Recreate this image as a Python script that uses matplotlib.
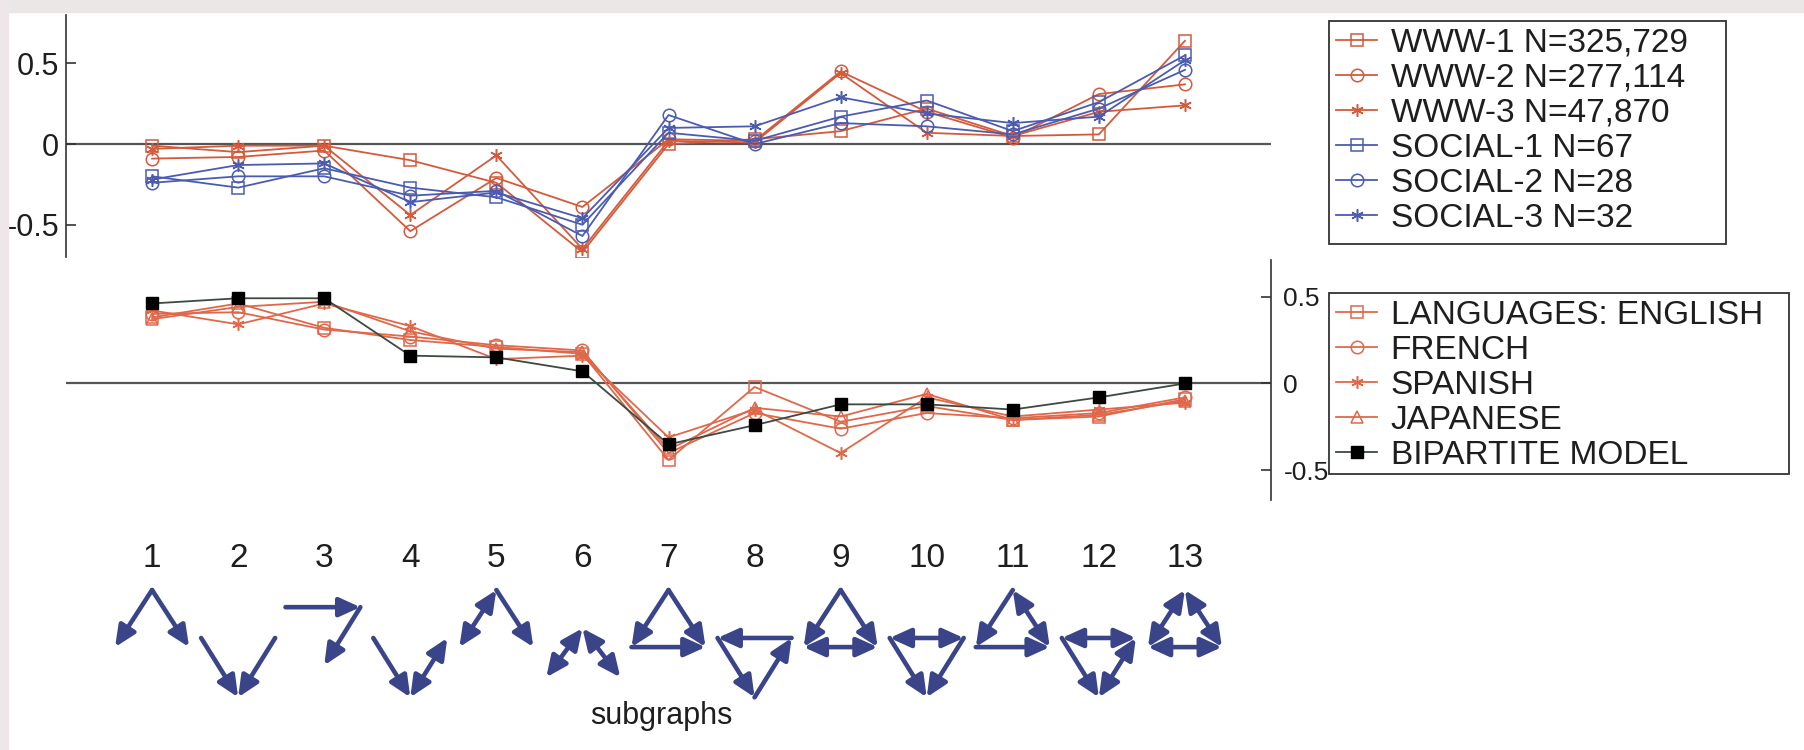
import matplotlib
matplotlib.use('Agg')
import matplotlib.pyplot as plt
from matplotlib.patches import Rectangle, ArrowStyle

plt.rcParams['font.family'] = ['Liberation Sans', 'DejaVu Sans']
plt.rcParams['axes.unicode_minus'] = False

# ========== data ==========
subgraph_ids = list(range(1, 14))

www1 = [-0.01, -0.05, -0.01, -0.10, -0.24, -0.67, 0.00, 0.03, 0.08, 0.22, 0.05, 0.06, 0.64]
www2 = [-0.09, -0.08, -0.04, -0.54, -0.21, -0.39, 0.03, 0.02, 0.45, 0.20, 0.04, 0.31, 0.37]
www3 = [-0.03, -0.01, -0.01, -0.44, -0.07, -0.65, 0.02, 0.01, 0.44, 0.07, 0.05, 0.20, 0.24]
soc1 = [-0.20, -0.27, -0.15, -0.27, -0.33, -0.50, 0.07, 0.02, 0.17, 0.27, 0.08, 0.26, 0.55]
soc2 = [-0.24, -0.20, -0.20, -0.32, -0.29, -0.57, 0.18, 0.00, 0.13, 0.11, 0.06, 0.22, 0.46]
soc3 = [-0.22, -0.13, -0.12, -0.36, -0.30, -0.46, 0.10, 0.11, 0.29, 0.19, 0.13, 0.17, 0.52]

eng = [0.38, 0.46, 0.32, 0.25, 0.21, 0.17, -0.44, -0.02, -0.22, -0.13, -0.21, -0.19, -0.09]
fre = [0.40, 0.41, 0.31, 0.27, 0.22, 0.19, -0.40, -0.17, -0.26, -0.17, -0.20, -0.17, -0.08]
spa = [0.42, 0.34, 0.46, 0.33, 0.14, 0.16, -0.31, -0.15, -0.40, -0.08, -0.19, -0.15, -0.11]
jap = [0.37, 0.44, 0.47, 0.30, 0.20, 0.18, -0.38, -0.14, -0.19, -0.06, -0.21, -0.18, -0.10]
bip = [0.46, 0.49, 0.49, 0.16, 0.15, 0.07, -0.35, -0.24, -0.12, -0.12, -0.15, -0.08, 0.00]

top_labels = ['WWW-1 N=325,729', 'WWW-2 N=277,114', 'WWW-3 N=47,870',
              'SOCIAL-1 N=67', 'SOCIAL-2 N=28', 'SOCIAL-3 N=32']
bot_labels = ['LANGUAGES: ENGLISH', 'FRENCH', 'SPANISH', 'JAPANESE', 'BIPARTITE MODEL']

# 3-node subgraph shapes (node positions relative to the subgraph's x)
UP = {'a': (0, 1.0), 'l': (-0.43, 0), 'r': (0.43, 0)}
DOWN = {'l': (-0.43, 0.16), 'r': (0.43, 0.16), 'b': (0, -0.88)}
CHAIN = {'s': (-0.45, 0.70), 'm': (0.42, 0.70), 'e': (0, -0.32)}
SMALL = {'a': (0, 0.33), 'l': (-0.42, -0.53), 'r': (0.44, -0.53)}

# (shape, [(from, to, both_ways)])
motifs = [
    (UP, [('a', 'l', 0), ('a', 'r', 0)]),
    (DOWN, [('l', 'b', 0), ('r', 'b', 0)]),
    (CHAIN, [('s', 'm', 0), ('m', 'e', 0)]),
    (DOWN, [('l', 'b', 0), ('b', 'r', 1)]),
    (UP, [('a', 'l', 1), ('a', 'r', 0)]),
    (SMALL, [('a', 'l', 1), ('a', 'r', 1)]),
    (UP, [('a', 'l', 0), ('a', 'r', 0), ('l', 'r', 0)]),
    (DOWN, [('r', 'l', 0), ('l', 'b', 0), ('b', 'r', 0)]),
    (UP, [('a', 'l', 0), ('a', 'r', 0), ('l', 'r', 1)]),
    (DOWN, [('l', 'r', 1), ('l', 'b', 0), ('r', 'b', 0)]),
    (UP, [('a', 'l', 0), ('a', 'r', 1), ('l', 'r', 0)]),
    (DOWN, [('l', 'r', 1), ('l', 'b', 0), ('r', 'b', 1)]),
    (UP, [('a', 'l', 1), ('a', 'r', 1), ('l', 'r', 1)]),
]

# ========== colours ==========
C_RED = '#d45a3c'
C_LANG = '#e0684a'
C_BLUE = '#4b5cb0'
C_NAVY = '#3a4589'
C_AXIS = '#333333'
C_ZERO = '#555555'
C_TEXT = '#1e1e1e'

W, H = 1804, 750
fig = plt.figure(figsize=(W / 100, H / 100), dpi=100)
fig.patch.set_facecolor('white')

# scan-like grey edges of the original
fig.patches.append(Rectangle((0, 1 - 12 / H), 1, 12 / H, transform=fig.transFigure,
                             color='#ebe7e7', zorder=0))
fig.patches.append(Rectangle((0, 0), 8 / W, 1, transform=fig.transFigure,
                             color='#efe6ea', zorder=0))


def style_axis(ax, side, labelsize, pad):
    ax.set_facecolor('none')
    for s in ['top', 'bottom', 'left', 'right']:
        ax.spines[s].set_visible(s == side)
    ax.spines[side].set_color(C_AXIS)
    ax.spines[side].set_linewidth(1.2)
    ax.set_xticks([])
    ax.set_xlim(0, 14)
    ax.set_yticks([-0.5, 0, 0.5])
    ax.set_yticklabels(['-0.5', '0', '0.5'])
    ax.tick_params(axis='y', direction='in', length=7, width=1.2, color=C_AXIS,
                   labelsize=labelsize, labelcolor=C_TEXT, pad=pad)
    ax.axhline(0, color=C_ZERO, lw=1.6, zorder=1)


def legend_box(ax, x0, y0, x1, y1):
    # Matlab-style legend: square frame with roomy right margin
    fig.patches.append(Rectangle((x0 / W, 1 - y1 / H), (x1 - x0) / W, (y1 - y0) / H,
                                 transform=fig.transFigure, fill=False,
                                 ec=C_AXIS, lw=1.3, zorder=5))
    leg = ax.legend(loc='upper left', bbox_to_anchor=(x0 / W, 1 - y0 / H),
                    bbox_transform=fig.transFigure, fontsize=24, frameon=False,
                    borderpad=0.2, labelspacing=0.12, handlelength=1.25,
                    handletextpad=0.4, borderaxespad=0)
    for t in leg.get_texts():
        t.set_color(C_TEXT)
    return leg


ms = 9
lw = 1.3

# ---- top panel ----
ax1 = fig.add_axes([66 / W, 1 - 257 / H, (1271 - 66) / W, 242 / H])
style_axis(ax1, 'left', 22, 5)
ax1.set_ylim(-0.7, 0.8)
top_series = [(www1, C_RED, 's'), (www2, C_RED, 'o'), (www3, C_RED, (6, 2, 0)),
              (soc1, C_BLUE, 's'), (soc2, C_BLUE, 'o'), (soc3, C_BLUE, (6, 2, 0))]
for (vals, col, mk), lab in zip(top_series, top_labels):
    ax1.plot(subgraph_ids, vals, color=col, lw=lw, marker=mk, ms=ms,
             mfc='none', mec=col, mew=1.1, label=lab, zorder=3)
legend_box(ax1, 1329, 21, 1726, 244)

# ---- bottom panel ----
ax2 = fig.add_axes([66 / W, 1 - 500 / H, (1271 - 66) / W, 240 / H])
style_axis(ax2, 'right', 19, 9)
ax2.yaxis.tick_right()
ax2.set_ylim(-0.67, 0.71)
bot_series = [(eng, C_LANG, 's'), (fre, C_LANG, 'o'), (spa, C_LANG, (6, 2, 0)),
              (jap, C_LANG, '^')]
for (vals, col, mk), lab in zip(bot_series, bot_labels[:4]):
    ax2.plot(subgraph_ids, vals, color=col, lw=lw, marker=mk, ms=ms,
             mfc='none', mec=col, mew=1.1, label=lab, zorder=3)
ax2.plot(subgraph_ids, bip, color='#3c4a40', lw=lw, marker='s', ms=8,
         mfc='black', mec='black', label=bot_labels[4], zorder=4)
legend_box(ax2, 1329, 293, 1789, 474)

# ---- subgraph drawings ----
ax3 = fig.add_axes([66 / W, 1 - 740 / H, (1271 - 66) / W, 200 / H])
ax3.set_xlim(0, 14)
ax3.set_ylim(-1.628, 1.877)
ax3.axis('off')

head = ArrowStyle('-|>', head_length=0.55, head_width=0.25)
both = ArrowStyle('<|-|>', head_length=0.55, head_width=0.25)
for i, (shape, edges) in zip(subgraph_ids, motifs):
    ax3.text(i, 1.56, str(i), ha='center', va='center', fontsize=24, color=C_TEXT)
    for a, b, two in edges:
        xa, ya = shape[a]
        xb, yb = shape[b]
        ax3.annotate('', xy=(i + xb, yb), xytext=(i + xa, ya),
                     arrowprops=dict(arrowstyle=both if two else head, color=C_NAVY,
                                     lw=3.3, mutation_scale=23, shrinkA=0, shrinkB=0))

ax3.text(6.92, -1.21, 'subgraphs', ha='center', va='center', fontsize=22, color=C_TEXT)

fig.savefig('out.png', dpi=100, facecolor='white')
